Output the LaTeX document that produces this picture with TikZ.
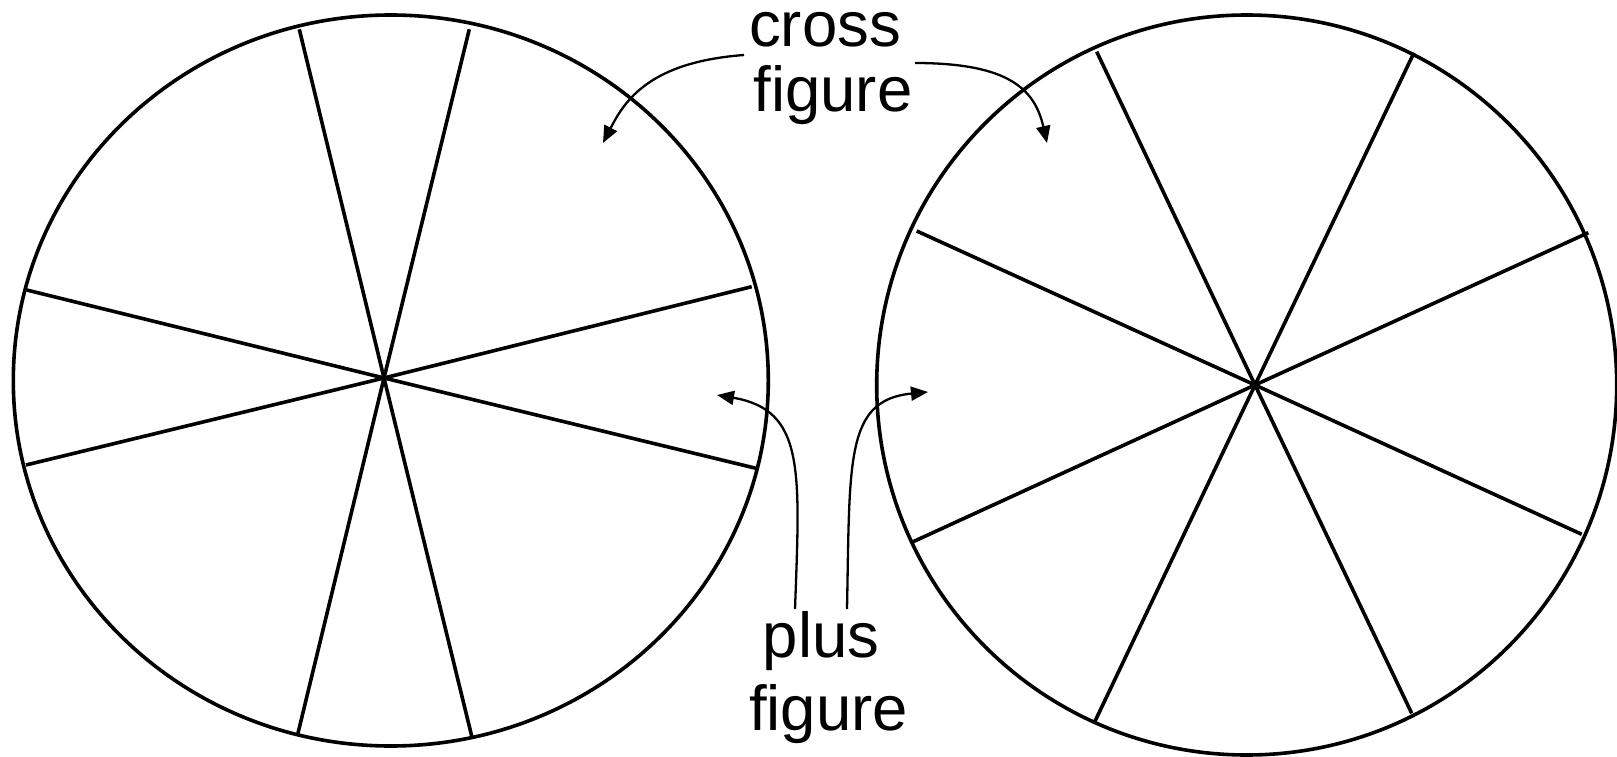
\documentclass[tikz,border=0pt]{standalone}
\usepackage{fontspec}
\setmainfont{Liberation Sans}
\usetikzlibrary{arrows.meta}
\begin{document}
\begin{tikzpicture}[x=1pt,y=-1pt,
  wheel/.style={line width=3.6pt},
  spoke/.style={line width=3.6pt},
  pointer/.style={line width=2.3pt,-{Triangle[length=17pt,width=14pt]}},
  lbl/.style={align=center,inner sep=0pt,anchor=base}]
\useasboundingbox (0,0) rectangle (1617,757);
% left wheel
\draw[wheel] (390.8,380.5) ellipse [x radius=377.5, y radius=365.5];
\coordinate (lc) at (384,378);
\foreach \p in {(299.3,29.3),(469.3,29.3),(26.7,290),(26,465),(751.7,286.7),(756,468.3),(297.3,736),(472,737.3)}
  \draw[spoke] (lc) -- \p;
% right wheel
\draw[wheel] (1246.7,385) circle [radius=370];
\coordinate (rc) at (1255,385);
\foreach \p in {(1096.7,51.7),(1414,52.7),(916.7,231),(1588.3,232.7),(911.6,542.4),(1581.7,534.3),(1094.3,722.7),(1411.7,713.3)}
  \draw[spoke] (rc) -- \p;
% labels
\node[lbl,font=\fontsize{63.5}{65.5}\selectfont] (cross) at (833,112) {cross\kern16pt\\figure};
\node[lbl,font=\fontsize{63.5}{72.7}\selectfont] (plus) at (828.5,730) {plus\kern15pt\\figure};
% pointer ends
\coordinate (cs1) at (744,55);
\coordinate (ct1) at (603,143);
\coordinate (cs2) at (915,63);
\coordinate (ct2) at (1047,143);
\coordinate (ps1) at (795,609);
\coordinate (pt1) at (717,395);
\coordinate (ps2) at (847,609);
\coordinate (pt2) at (928,392);
\draw[pointer] (cs1) .. controls (650,62) and (625,100) .. (ct1);
\draw[pointer] (cs2) .. controls (1010,63) and (1035,90) .. (ct2);
\draw[pointer] (ps1) .. controls (800,470) and (805,410) .. (pt1);
\draw[pointer] (ps2) .. controls (850,460) and (845,400) .. (pt2);
\end{tikzpicture}
\end{document}
